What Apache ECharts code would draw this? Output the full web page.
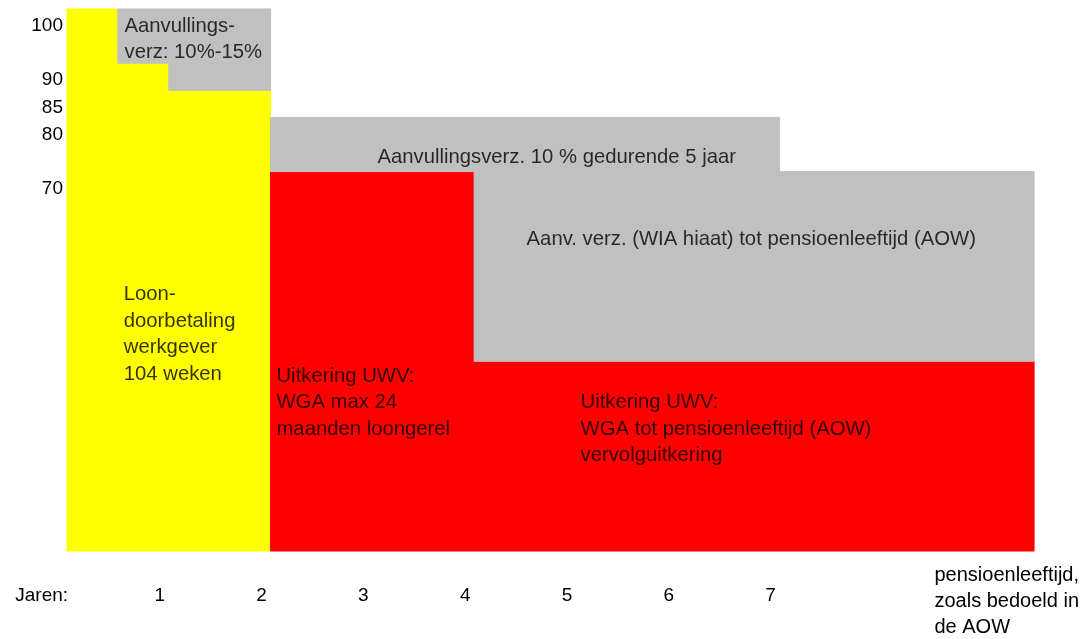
<!DOCTYPE html>
<html>
<head>
<meta charset="utf-8">
<script src="https://cdn.jsdelivr.net/npm/echarts@6/dist/echarts.min.js"></script>
<style>
  html, body { margin: 0; padding: 0; background: #ffffff; }
  #chart { width: 1087px; height: 639px; }
</style>
</head>
<body>
<div id="chart"></div>
<script>
// ---- data ----
// blocks: [fromYear, toYear, fromPct, toPct]
var yellowBlocks = [[0, 0.5, 0, 100], [0.5, 1, 0, 90], [1, 2, 0, 85]];
var redBlocks = [[2, 4, 0, 70], [4, 9.5, 0, 35]];
var grayBlocks = [[0.5, 1, 90, 100], [1, 2, 85, 100], [2, 7, 70, 80], [4, 9.5, 35, 70]];

var yTickValues = [100, 90, 85, 80, 70];
var xLabelPos = [-0.16, 1, 2, 3, 4, 5, 6, 7, 9.32];
var xLabels = ['Jaren:', '1', '2', '3', '4', '5', '6', '7', 'pensioenleeftijd,\nzoals bedoeld in\nde AOW'];

var annoText = [
  'Aanvullings-\nverz: 10%-15%',
  'Aanvullingsverz. 10 % gedurende 5 jaar',
  'Aanv. verz. (WIA hiaat) tot pensioenleeftijd (AOW)',
  'Loon-\ndoorbetaling\nwerkgever\n104 weken',
  'Uitkering UWV:\nWGA max 24\nmaanden loongerel',
  'Uitkering UWV:\nWGA tot pensioenleeftijd (AOW)\nvervolguitkering'
];
var annoX = [0.56, 3.045, 4.51, 0.553, 2.053, 5.04];
var annoY = [99.3, 75.0, 60.0, 49.7, 34.7, 29.8];

// ---- chart ----
var FONT = '"Liberation Sans", Arial, sans-serif';
var chart = echarts.init(document.getElementById('chart'), null, { renderer: 'canvas' });

function rectSeries(name, blocks, color) {
  return {
    name: name,
    type: 'custom',
    silent: true,
    data: blocks,
    encode: { x: [0, 1], y: [2, 3] },
    renderItem: function (params, api) {
      var p0 = api.coord([api.value(0), api.value(3)]);
      var p1 = api.coord([api.value(1), api.value(2)]);
      return {
        type: 'rect',
        shape: { x: p0[0], y: p0[1], width: p1[0] - p0[0], height: p1[1] - p0[1] },
        style: { fill: color, stroke: color, lineWidth: 1 }
      };
    },
    z: 2
  };
}

var annoData = annoText.map(function (t, i) { return [annoX[i], annoY[i], t]; });

var option = {
  backgroundColor: '#ffffff',
  animation: false,
  textStyle: { fontFamily: FONT },
  grid: { left: 0, right: 0, top: 9, bottom: 88, containLabel: false, outerBoundsMode: 'none' },
  xAxis: {
    type: 'value',
    min: -0.658,
    max: 10.02,
    axisLine: { show: false },
    axisTick: { show: false },
    splitLine: { show: false },
    axisLabel: {
      customValues: xLabelPos,
      margin: 11,
      padding: [0, 18, 0, 0],
      color: '#000',
      fontFamily: FONT,
      fontSize: 20,
      formatter: function (v) {
        var idx = xLabelPos.indexOf(v);
        var s = idx >= 0 ? xLabels[idx] : '';
        if (s.indexOf('\n') >= 0) {
          return s.split('\n').map(function (l) { return '{p|' + l + '}'; }).join('\n');
        }
        return '{d|' + s + '}';
      },
      rich: {
        d: { fontSize: 19, lineHeight: 68, color: '#000', fontFamily: FONT },
        p: { fontSize: 20, lineHeight: 26, align: 'left', color: '#000', fontFamily: FONT }
      }
    }
  },
  yAxis: {
    type: 'value',
    min: 0,
    max: 100,
    position: 'left',
    offset: -67,
    axisLine: { show: false, onZero: false },
    axisTick: { show: false },
    splitLine: { show: false },
    axisLabel: {
      customValues: yTickValues,
      margin: 4,
      verticalAlign: 'top',
      lineHeight: 34,
      color: '#000',
      fontFamily: FONT,
      fontSize: 19
    }
  },
  series: [
    rectSeries('Loondoorbetaling', yellowBlocks, '#FFFF00'),
    rectSeries('Uitkering UWV', redBlocks, '#FF0000'),
    rectSeries('Aanvullingsverzekering', grayBlocks, '#C0C0C0'),
    {
      name: 'labels',
      type: 'scatter',
      silent: true,
      symbolSize: 1,
      itemStyle: { color: 'rgba(0,0,0,0)' },
      data: annoData,
      z: 5,
      label: {
        show: true,
        position: 'right',
        distance: 0,
        verticalAlign: 'top',
        align: 'left',
        color: '#000',
        fontFamily: FONT,
        fontSize: 20.3,
        lineHeight: 26.4,
        formatter: function (p) { return p.value[2]; }
      },
      emphasis: { disabled: true }
    }
  ]
};
chart.setOption(option);
</script>
</body>
</html>
